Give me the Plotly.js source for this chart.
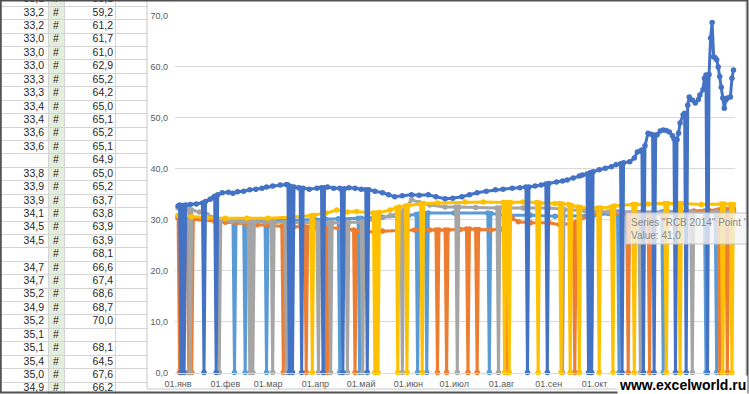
<!DOCTYPE html>
<html><head><meta charset="utf-8">
<script src="https://cdn.plot.ly/plotly-3.0.1.min.js"></script>
<style>html,body{margin:0;padding:0;background:#fff}#chart{width:749px;height:394px}</style>
</head><body><div id="chart"></div>
<script>
const YEAR = '2014-';
const monthTicks = ['01-01','02-01','03-01','04-01','05-01','06-01','07-01','08-01','09-01','10-01'];
const monthLabels = ['01.янв','01.фев','01.мар','01.апр','01.май','01.июн','01.июл','01.авг','01.сен','01.окт'];
const yTicks = [0,10,20,30,40,50,60,70];

// Spreadsheet cells on the left
const colA = ['33,1','33,2','33,2','33,0','33,0','33,0','33,3','33,3','33,4','33,4','33,6','33,6','','33,8','33,9','33,9','34,1','34,5','34,5','','34,7','34,7','35,2','34,9','35,2','35,1','35,1','35,4','35,0','34,9'];
const colB = ['#','#','#','#','#','#','#','#','#','#','#','#','#','#','#','#','#','#','#','#','#','#','#','#','#','#','#','#','#','#'];
const colC = ['58,1','59,2','61,2','61,7','61,0','62,9','65,2','64,2','65,0','65,1','65,2','65,1','64,9','65,0','65,2','63,7','63,8','63,9','63,9','68,1','66,6','67,4','68,6','68,7','70,0','','68,1','64,5','67,6','66,2'];

// Series 1 (light blue)
const lbDates = ['01-01','01-15','02-01','02-06','02-07','02-08','02-13','02-14','02-15','02-27',
 '02-28','03-01','03-15','04-01','04-06','04-07','04-08','04-16','04-17','04-18',
 '04-29','04-30','05-01','05-15','06-01','06-06','06-07','06-08','06-12','06-13',
 '06-14','07-01','07-23','07-24','07-25','08-05','08-20','09-05','09-28','09-29',
 '09-30','10-10','10-16','10-17','10-18','11-01','11-14','11-15','11-16','12-01',
 '12-12','12-13','12-14','12-19','12-20','12-21','12-31'];
const lbValues = [30.4,30.2,30.0,30.0,0,30.0,30.0,0,30.0,29.9,
 0,29.9,29.9,30.0,30.1,0,30.1,30.2,0,30.2,
 30.3,0,30.3,30.5,30.8,31.0,0,31.1,31.2,0,
 31.3,31.3,31.3,0,31.2,30.9,30.9,30.7,30.8,0,
 30.8,31.2,31.5,0,31.5,31.5,31.5,0,31.6,31.6,
 31.7,0,31.7,31.7,0,31.8,31.8];

// Series 2 (orange)
const orDates = ['01-01','01-02','01-03','01-07','01-08','01-09','01-10','01-11','01-18','01-25',
 '02-01','02-08','02-15','02-22','03-01','03-10','03-11','03-12','03-18','03-25',
 '03-26','03-27','04-01','04-08','04-09','04-10','04-18','04-26','04-27','04-28',
 '05-05','05-15','05-25','06-05','06-15','06-19','06-20','06-21','06-25','06-26',
 '06-27','07-05','07-09','07-10','07-11','07-15','07-16','07-17','07-25','08-01',
 '08-04','08-05','08-06','08-08','08-12','08-20','09-01','09-08','09-17','09-18',
 '09-19','09-28','10-05','10-15','10-22','10-23','10-24','11-01','11-05','11-06',
 '11-07','11-15','11-25','12-05','12-15','12-21','12-22','12-23','12-26','12-27',
 '12-28','12-31'];
const orValues = [30.6,0,30.5,30.3,0,30.2,0,30.1,29.9,29.7,
 29.5,29.3,29.1,29.0,28.9,28.7,0,28.7,28.6,28.6,
 0,28.5,28.5,28.4,0,28.4,28.3,28.0,0,27.8,
 27.6,27.8,27.9,28.0,28.0,28.0,0,28.0,28.0,0,
 28.0,28.1,28.2,0,28.2,28.1,0,28.1,28.0,28.2,
 28.6,0,29.5,30.3,29.6,29.4,29.4,29.0,29.3,0,
 29.6,30.8,31.5,31.3,31.2,0,31.2,31.0,31.1,0,
 31.1,31.1,31.5,31.7,31.8,31.9,0,32.0,32.0,0,
 32.0,32.1];

// Series 3 (gray)
const grDates = ['01-01','01-05','01-08','01-09','01-10','01-15','01-20','01-25','01-27','01-28',
 '01-29','02-05','02-12','02-16','02-17','02-18','02-19','02-20','02-27','03-03',
 '03-04','03-05','03-12','03-13','03-14','03-22','04-02','04-03','04-04','04-10',
 '04-11','04-12','04-21','04-22','04-23','05-01','05-02','05-03','05-12','05-20',
 '05-27','05-28','05-29','06-03','06-08','06-15','06-25','07-02','07-03','07-04',
 '07-15','07-29','07-30','07-31','08-15','09-01','09-09','09-10','09-11','09-25',
 '10-10','10-30','10-31','11-01','11-20','12-03','12-04','12-05','12-20','12-31'];
const grValues = [32.3,32.2,32.0,0,31.9,31.5,31.0,30.4,30.0,0,
 29.9,29.7,29.6,29.6,0,29.6,0,29.6,29.6,29.5,
 0,29.5,29.5,0,29.5,29.4,29.4,0,29.4,29.4,
 0,29.4,29.4,0,29.5,29.5,0,29.6,30.2,30.8,
 31.4,0,31.8,33.9,33.4,32.9,32.5,32.5,0,32.5,
 32.4,32.3,0,32.3,32.3,32.3,32.1,0,32.0,31.7,
 31.5,31.4,0,31.3,31.3,31.4,0,31.4,31.5,31.6];

// Series 4 (yellow)
const ylDates = ['01-01','01-10','01-20','02-01','02-15','03-01','03-15','03-29','03-30','03-31',
 '04-08','04-15','04-22','04-28','05-05','05-09','05-10','05-11','05-12','05-13',
 '05-20','05-24','05-25','05-26','05-30','05-31','06-01','06-09','06-10','06-11',
 '06-20','07-08','07-20','08-02','08-03','08-04','08-05','08-06','08-07','08-15',
 '08-24','08-25','08-26','09-05','09-08','09-09','09-10','09-14','09-15','09-16',
 '09-20','09-21','09-22','10-03','10-04','10-05','10-12','10-13','10-14','10-26',
 '10-27','10-28','11-05','11-16','11-17','11-18','11-25','11-26','11-27','12-10',
 '12-23','12-24','12-25','12-29','12-30','12-31'];
const ylValues = [30.9,30.6,30.4,30.3,30.3,30.3,30.5,30.8,0,30.9,
 31.3,31.9,31.5,31.6,31.4,31.3,0,31.3,0,31.4,
 31.9,32.3,0,32.5,32.7,0,32.8,33.1,0,33.2,
 33.3,33.5,33.5,33.4,0,33.4,33.4,0,33.4,33.5,
 33.4,0,33.3,33.2,33.2,0,33.1,33.0,0,32.8,
 32.5,0,32.4,32.3,0,32.3,32.5,0,32.7,33.0,
 0,33.0,33.1,33.2,0,33.2,33.2,0,33.2,33.0,
 33.1,0,33.1,33.0,0,33.0];

// Series 5 "RCB 2014" (dark blue)
const rcbDates = ['01-01','01-02','01-03','01-04','01-05','01-06','01-09','01-13','01-17','01-18',
 '01-19','01-22','01-24','01-25','01-26','01-27','01-30','02-03','02-06','02-09',
 '02-13','02-17','02-21','02-25','02-28','03-04','03-09','03-13','03-14','03-15',
 '03-16','03-17','03-18','03-21','03-22','03-23','03-24','03-28','04-02','04-05',
 '04-06','04-07','04-09','04-13','04-17','04-18','04-19','04-20','04-23','04-27',
 '05-01','05-04','05-05','05-06','05-10','05-15','05-19','05-23','05-28','06-03',
 '06-08','06-14','06-19','06-25','06-30','07-06','07-11','07-16','07-22','07-28',
 '08-02','08-08','08-13','08-17','08-18','08-19','08-23','08-27','08-30','08-31',
 '09-01','09-06','09-10','09-13','09-17','09-21','09-23','09-26','09-27','09-28',
 '09-29','09-30','10-04','10-08','10-12','10-15','10-18','10-19','10-20','10-24',
 '10-27','10-29','10-31','11-01','11-02','11-03','11-05','11-07','11-08','11-09',
 '11-10','11-11','11-13','11-15','11-17','11-19','11-21','11-22','11-23','11-24',
 '11-25','11-26','11-28','11-29','11-30','12-01','12-02','12-04','12-06','12-08',
 '12-09','12-11','12-12','12-13','12-14','12-15','12-16','12-17','12-18','12-19',
 '12-20','12-21','12-22','12-23','12-24','12-25','12-26','12-27','12-29','12-30',
 '12-31'];
const rcbValues = [32.7,32.9,0,32.8,0,32.9,33.0,33.1,33.3,0,
 33.6,34.0,34.3,34.6,0,34.9,35.3,35.4,35.2,35.5,
 35.6,35.9,36.0,36.2,36.4,36.6,36.8,36.9,36.8,0,
 36.5,0,36.4,36.3,36.2,0,36.2,36.0,36.2,36.3,
 0,36.3,36.4,36.2,36.2,36.0,0,36.1,36.3,36.2,
 36.0,35.9,0,35.9,35.6,35.3,34.9,34.5,34.7,34.9,
 34.8,34.9,34.5,34.1,34.2,34.5,34.9,35.3,35.6,35.9,
 36.0,36.2,36.3,36.4,0,36.4,36.6,36.8,37.0,0,
 37.1,37.4,37.6,37.8,38.2,38.6,38.8,39.0,0,39.2,
 0,39.4,39.8,40.1,40.4,40.8,41.0,0,41.2,41.4,
 42.1,43.3,43.5,43.7,0,44.5,47.0,46.8,46.7,0,
 46.6,46.7,47.4,47.6,47.5,47.2,46.5,45.9,0,45.7,
 47.0,49.0,50.6,50.9,0,52.5,54.1,53.5,52.9,53.6,
 54.5,55.5,57.8,58.4,0,58.5,65.7,68.7,62.0,61.8,
 61.4,60.0,58.1,56.0,53.9,51.9,53.5,53.9,54.1,57.8,
 59.4];

const W = 749, H = 394;
function series(dates, values, color, name) {
  return {
    type: 'scatter', mode: 'lines+markers', name: name,
    x: dates.map(d => YEAR + d), y: values,
    line: {color: color, width: 3},
    marker: {color: color, size: 5.5},
    cliponaxis: false, xaxis: 'x', yaxis: 'y', hoverinfo: 'skip'
  };
}
const cellFont = {family: 'Liberation Sans, Arial, sans-serif', size: 10.5, color: '#262626'};
function cellCol(vals, xpos, pos) {
  return {
    type: 'scatter', mode: 'text', x: vals.map(() => xpos), y: vals.map((_, i) => i),
    text: vals, textposition: pos, textfont: cellFont, xaxis: 'x2', yaxis: 'y2',
    hoverinfo: 'skip', cliponaxis: true
  };
}

const data = [
  cellCol(colA, 44, 'middle left'),
  cellCol(colB, 56, 'middle center'),
  cellCol(colC, 113, 'middle left'),
  series(lbDates, lbValues, '#5B9BD5', 'RCB 2010'),
  series(orDates, orValues, '#ED7D31', 'RCB 2011'),
  series(grDates, grValues, '#A5A5A5', 'RCB 2012'),
  series(ylDates, ylValues, '#FFC000', 'RCB 2013'),
  series(rcbDates, rcbValues, '#4472C4', 'RCB 2014')
];

const rowLines = Array.from({length: colA.length + 1}, (_, i) => i - 0.5);
const tickFont = {family: 'Liberation Sans, Arial, sans-serif', size: 9, color: '#595959'};

const layout = {
  width: W, height: H, margin: {l: 0, r: 0, t: 0, b: 0},
  paper_bgcolor: '#ffffff', plot_bgcolor: 'rgba(0,0,0,0)',
  showlegend: false, hovermode: false, separators: ', ',
  xaxis: {
    domain: [175 / W, 735 / W], type: 'date', range: ['2013-12-30', '2015-01-01'],
    tickvals: monthTicks.map(d => YEAR + d), ticktext: monthLabels,
    tickfont: tickFont, showgrid: false, showline: true, linecolor: '#d9d9d9',
    ticks: '', zeroline: false, anchor: 'y', ticklabelstandoff: 3, fixedrange: true
  },
  yaxis: {
    domain: [1 - 372.5 / H, 1 - 16 / H], range: [0, 70], tickvals: yTicks,
    tickformat: '.1f', tickfont: tickFont, gridcolor: '#d9d9d9', gridwidth: 1,
    zeroline: false, showline: false, ticks: '', anchor: 'x', ticklabelstandoff: 6, fixedrange: true
  },
  xaxis2: {
    domain: [0, 148 / W], range: [0, 148], anchor: 'y2', showticklabels: false,
    tickvals: [48, 64, 115], showgrid: true, gridcolor: '#d4d4d4', zeroline: false, ticks: ''
  },
  yaxis2: {
    domain: [0, 1], range: [29.39, 0.031], anchor: 'x2', showticklabels: false,
    tickvals: rowLines, showgrid: true, gridcolor: '#d4d4d4', zeroline: false, ticks: ''
  },
  shapes: [
    {type: 'rect', xref: 'x2', yref: 'paper', x0: 48, x1: 64, y0: 0, y1: 1,
     fillcolor: '#E4EEDC', line: {width: 0}, layer: 'below'},
    {type: 'rect', xref: 'paper', yref: 'paper', x0: 147 / W, x1: 746 / W, y0: 1 - 389 / H, y1: 1,
     line: {color: '#c8c8c8', width: 1}, fillcolor: 'rgba(0,0,0,0)', layer: 'below'},
    {type: 'rect', xref: 'paper', yref: 'paper', x0: 626 / W, x1: 1.02, y0: 1 - 244 / H, y1: 1 - 213 / H,
     line: {color: '#c4c4c4', width: 1}, fillcolor: 'rgba(243,243,243,0.78)', layer: 'above'},
    {type: 'rect', xref: 'paper', yref: 'paper', x0: 0.001, x1: 0.998, y0: 0.004, y1: 0.999,
     line: {color: '#505050', width: 2}, fillcolor: 'rgba(0,0,0,0)', layer: 'above'}
  ],
  annotations: [
    {xref: 'paper', yref: 'paper', x: 629 / W, y: 1 - 228.5 / H, xanchor: 'left', yanchor: 'middle',
     align: 'left', showarrow: false, text: 'Series "RCB 2014" Point "2<br>Value: 41,0',
     font: {family: 'Liberation Sans, Arial, sans-serif', size: 10, color: '#8a8a8a'}},
    {xref: 'paper', yref: 'paper', x: 682 / W, y: 1 - 384.5 / H, xanchor: 'center', yanchor: 'middle',
     showarrow: false, text: 'www.excelworld.ru', bgcolor: '#ffffff', borderpad: 1,
     font: {family: 'Liberation Sans, Arial, sans-serif', size: 14, weight: 'bold', color: '#000000'}}
  ]
};

Plotly.newPlot('chart', data, layout, {staticPlot: true, displayModeBar: false});
</script>
</body></html>
